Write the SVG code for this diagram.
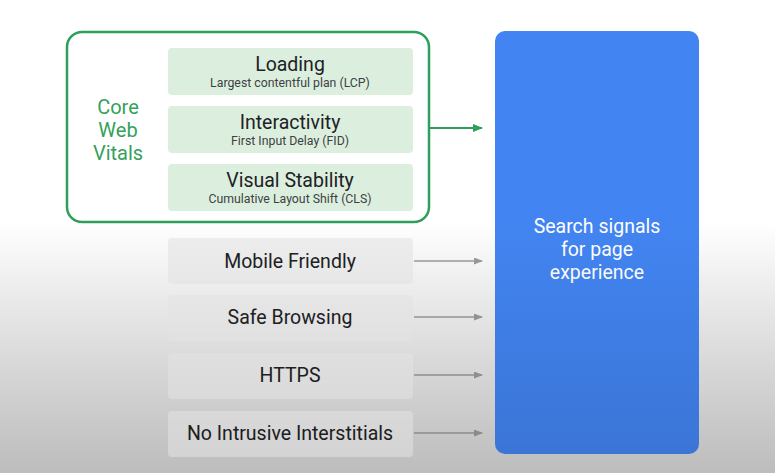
<svg xmlns="http://www.w3.org/2000/svg" width="775" height="473" viewBox="0 0 775 473">
<style>
.t{font-family:Roboto,"Open Sans","Liberation Sans",sans-serif;text-anchor:middle}
.h{font-size:19.5px;fill:#202124}
.s{font-size:12.3px;fill:#3c4043}
.g{font-size:19.5px;fill:#202124}
.cwv{font-size:20px;fill:#34a15a}
.w{font-size:19.5px;fill:#ffffff}
.vbox{fill:#dcefdf}
.gbox{fill:#eeeeee}
.ga{stroke:#9a9a9a;stroke-width:1.3;fill:none}
</style>
<defs>
<linearGradient id="bg" x1="0" y1="0" x2="0" y2="1">
<stop offset="0" stop-color="#ffffff"/>
<stop offset="0.47" stop-color="#ffffff"/>
<stop offset="1" stop-color="#d6d6d6"/>
</linearGradient>
<linearGradient id="shade" x1="0" y1="0" x2="0" y2="1">
<stop offset="0" stop-color="#000" stop-opacity="0"/>
<stop offset="0.47" stop-color="#000" stop-opacity="0"/>
<stop offset="1" stop-color="#000" stop-opacity="0.12"/>
</linearGradient>
<marker id="ag" markerWidth="10" markerHeight="8" refX="9" refY="4" orient="auto" markerUnits="userSpaceOnUse">
<path d="M0,0 L10,4 L0,8 z" fill="#2e9e5b"/>
</marker>
<marker id="ay" markerWidth="9" markerHeight="7" refX="8" refY="3.5" orient="auto" markerUnits="userSpaceOnUse">
<path d="M0,0 L9,3.5 L0,7 z" fill="#9a9a9a"/>
</marker>
</defs>
<rect x="0" y="0" width="775" height="473" fill="url(#bg)"/>

<g id="core-web-vitals">
<rect x="67" y="32" width="362" height="190" rx="15" fill="#ffffff" stroke="#2e9e5b" stroke-width="2.5"/>
<text class="t cwv" x="118" y="114">Core</text>
<text class="t cwv" x="118" y="137">Web</text>
<text class="t cwv" x="118" y="160">Vitals</text>
</g>
<g id="loading">
<rect class="vbox" x="168" y="48" width="245" height="47" rx="4"/>
<text class="t h" x="290" y="71">Loading</text>
<text class="t s" x="290" y="87">Largest contentful plan (LCP)</text>
</g>
<g id="interactivity">
<rect class="vbox" x="168" y="106" width="245" height="47" rx="4"/>
<text class="t h" x="290" y="129">Interactivity</text>
<text class="t s" x="290" y="145">First Input Delay (FID)</text>
</g>
<g id="visual-stability">
<rect class="vbox" x="168" y="164" width="245" height="47" rx="4"/>
<text class="t h" x="290" y="187">Visual Stability</text>
<text class="t s" x="290" y="203">Cumulative Layout Shift (CLS)</text>
</g>
<g id="mobile-friendly">
<rect class="gbox" x="168" y="238" width="245" height="46" rx="4"/>
<text class="t g" x="290" y="268">Mobile Friendly</text>
</g>
<g id="safe-browsing">
<rect class="gbox" x="168" y="295" width="245" height="46" rx="4"/>
<text class="t g" x="290" y="324">Safe Browsing</text>
</g>
<g id="https">
<rect class="gbox" x="168" y="353" width="245" height="46" rx="4"/>
<text class="t g" x="290" y="382">HTTPS</text>
</g>
<g id="no-intrusive">
<rect class="gbox" x="168" y="411" width="245" height="46" rx="4"/>
<text class="t g" x="290" y="440">No Intrusive Interstitials</text>
</g>
<g id="search-signals">
<rect x="495" y="31" width="204" height="423" rx="10" fill="#4284f1"/>
<text class="t w" x="597" y="233">Search signals</text>
<text class="t w" x="597" y="256">for page</text>
<text class="t w" x="597" y="279">experience</text>
</g>
<g id="connectors">
<line x1="429" y1="128" x2="482" y2="128" stroke="#2e9e5b" stroke-width="2" marker-end="url(#ag)"/>
<line class="ga" x1="414" y1="261" x2="482" y2="261" marker-end="url(#ay)"/>
<line class="ga" x1="414" y1="317" x2="482" y2="317" marker-end="url(#ay)"/>
<line class="ga" x1="414" y1="375" x2="482" y2="375" marker-end="url(#ay)"/>
<line class="ga" x1="414" y1="433" x2="482" y2="433" marker-end="url(#ay)"/>
</g>
<rect x="0" y="0" width="775" height="473" fill="url(#shade)" pointer-events="none"/>
</svg>
